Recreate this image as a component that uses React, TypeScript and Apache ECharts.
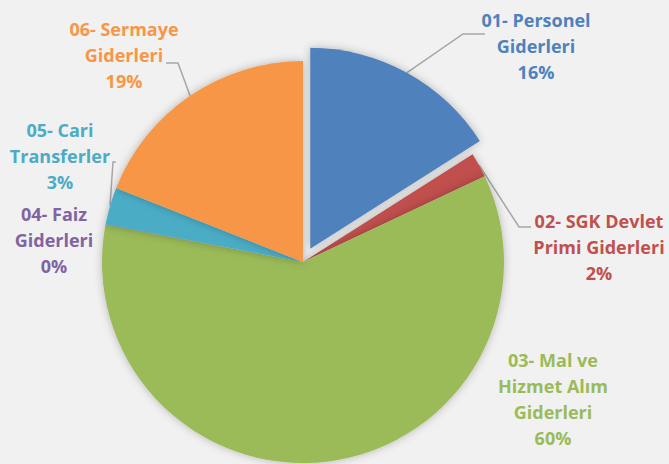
import React, { useEffect, useRef } from "react";
import * as echarts from "echarts";

const categories = [
  "01- Personel\nGiderleri",
  "02- SGK Devlet\nPrimi Giderleri",
  "03- Mal ve\nHizmet Alım\nGiderleri",
  "04- Faiz\nGiderleri",
  "05- Cari\nTransferler",
  "06- Sermaye\nGiderleri",
];
const values = [16, 2, 60, 0.05, 3, 19];
const colors = ["#4f81bd", "#c0504d", "#9bbb59", "#8064a2", "#4bacc6", "#f79646"];
const showLine = [true, true, false, false, true, true];
const explodedIndex = 0;

// layout: label block centres and label-line elbow / end points
const labelPos: [number, number][] = [
  [536, 46],
  [599, 247],
  [553, 399],
  [54, 240],
  [60, 156],
  [124, 55],
];
const lineElbow: ([number, number] | null)[] = [
  [463, 34],
  [519, 227],
  null,
  null,
  [113, 162],
  [178, 63],
];
const lineEnd: ([number, number] | null)[] = [
  [485, 34],
  [531, 227],
  null,
  null,
  [116, 162],
  [166, 63],
];

const CX = 303;
const CY = 262;
const R = 201;
const OFFSET = 15;

function midDir(i: number): [number, number] {
  const total = values.reduce((a, b) => a + b, 0);
  let acc = 0;
  for (let k = 0; k < i; k++) acc += values[k];
  const mid = ((acc + values[i] / 2) / total) * Math.PI * 2;
  return [Math.sin(mid), -Math.cos(mid)];
}
function midPoint(i: number): [number, number] {
  const d = midDir(i);
  const r = R + (i === explodedIndex ? OFFSET : 0);
  return [CX + d[0] * r, CY + d[1] * r];
}

export default function App() {
  const ref = useRef<HTMLDivElement>(null);
  useEffect(() => {
    document.body.style.margin = "0";
    const chart = echarts.init(ref.current!, null, { renderer: "svg" });
    const ed = midDir(explodedIndex);
    const common = {
      type: "pie",
      radius: R,
      startAngle: 90,
      clockwise: true,
      percentPrecision: 0,
      avoidLabelOverlap: false,
      emphasis: { disabled: true },
    };
    chart.setOption({
      animation: false,
      backgroundColor: "#f1f1f1",
      series: [
        {
          ...common,
          center: [CX, CY],
          itemStyle: { shadowBlur: 8, shadowColor: "rgba(0,0,0,0.25)" },
          label: {
            show: true,
            position: "outside",
            formatter: "{b}\n{d}%",
            fontFamily: "Open Sans",
            fontWeight: "bold",
            fontSize: 18,
            lineHeight: 26,
            align: "center",
          },
          labelLine: {
            show: true,
            lineStyle: { color: "#a6a6a6", width: 1.5 },
          },
          labelLayout: (params: any) => {
            const i = params.dataIndex;
            const p = labelPos[i];
            const res: any = { x: p[0], y: p[1], align: "center", verticalAlign: "middle" };
            if (showLine[i]) {
              res.labelLinePoints = [midPoint(i), lineElbow[i], lineEnd[i]];
            }
            return res;
          },
          data: values.map((v, i) => ({
            name: categories[i],
            value: v,
            itemStyle:
              i === explodedIndex
                ? { color: "rgba(0,0,0,0)", shadowBlur: 0 }
                : { color: colors[i] },
            label: { color: colors[i] },
            labelLine: { show: showLine[i] },
          })),
        },
        {
          ...common,
          center: [CX + ed[0] * OFFSET, CY + ed[1] * OFFSET],
          silent: true,
          label: { show: false },
          labelLine: { show: false },
          data: values.map((v, i) => ({
            name: categories[i],
            value: v,
            itemStyle:
              i === explodedIndex
                ? { color: colors[i], shadowBlur: 8, shadowColor: "rgba(0,0,0,0.25)" }
                : { color: "rgba(0,0,0,0)" },
          })),
        },
      ],
    });
    return () => chart.dispose();
  }, []);
  return <div ref={ref} style={{ width: 669, height: 464 }} />;
}
